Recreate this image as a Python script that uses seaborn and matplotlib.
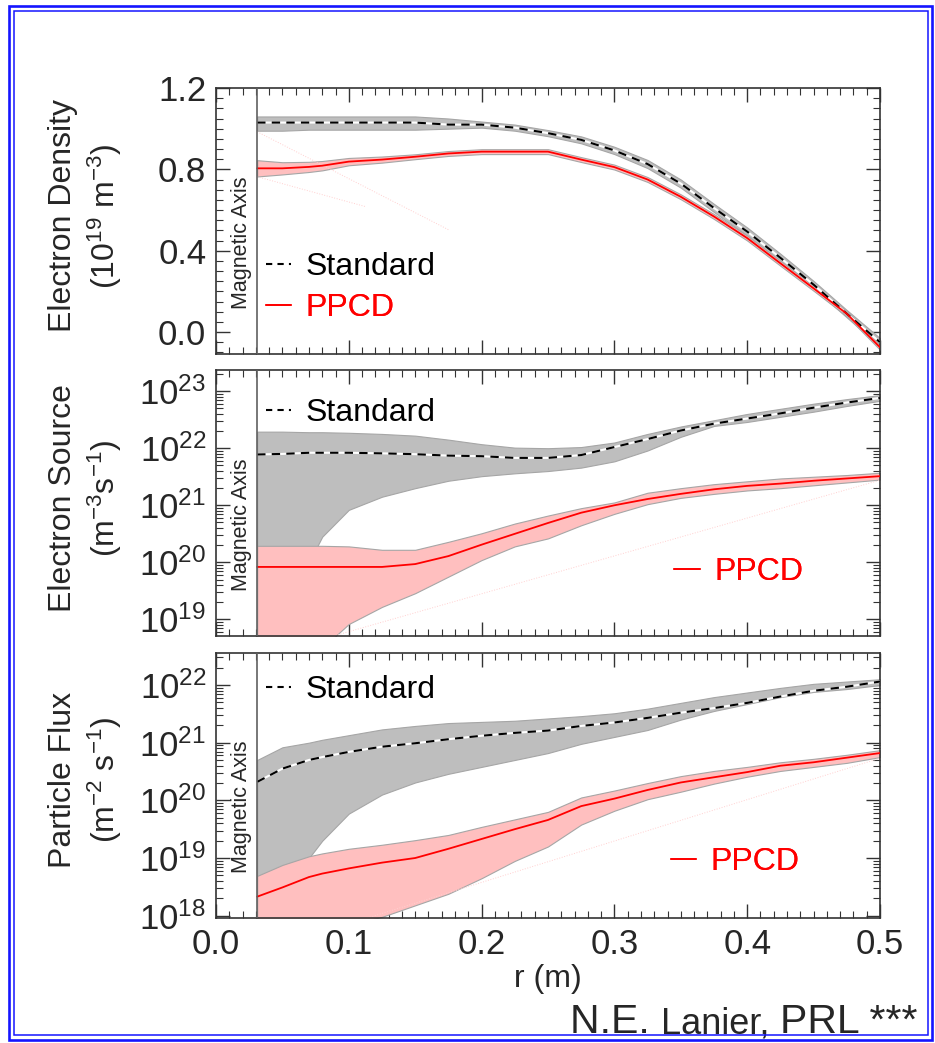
import numpy as np
import seaborn as sns
import matplotlib.pyplot as plt
from matplotlib.lines import Line2D
from matplotlib.patches import Rectangle
from matplotlib.ticker import MultipleLocator, LogLocator, NullFormatter, FormatStrFormatter
import matplotlib.transforms as mtransforms

sns.set_style("white")
plt.rcParams['font.family'] = ['Liberation Sans', 'DejaVu Sans']
plt.rcParams['mathtext.fontset'] = 'custom'
plt.rcParams['mathtext.rm'] = 'Liberation Sans'
plt.rcParams['mathtext.it'] = 'Liberation Sans:italic'
plt.rcParams['mathtext.bf'] = 'Liberation Sans:bold'
plt.rcParams['mathtext.default'] = 'regular'

# radius grid (m) and magnetic axis position
r = [0.031, 0.05, 0.07, 0.08, 0.1, 0.125, 0.15, 0.175, 0.2, 0.225, 0.25,
     0.275, 0.3, 0.325, 0.35, 0.375, 0.4, 0.425, 0.45, 0.475, 0.5]
mag_axis = 0.031

# electron density (1e19 m^-3)
dens_std = [1.03, 1.03, 1.03, 1.03, 1.03, 1.03, 1.03, 1.02, 1.02, 1.005, 0.978,
            0.945, 0.893, 0.826, 0.73, 0.61, 0.494, 0.365, 0.233, 0.09, -0.05]
dens_std_lo = [0.99, 0.99, 0.995, 0.995, 0.995, 0.995, 0.995, 1.0, 1.005, 0.99, 0.963,
               0.928, 0.875, 0.806, 0.71, 0.59, 0.474, 0.345, 0.215, 0.072, -0.07]
dens_std_hi = [1.06, 1.06, 1.06, 1.06, 1.06, 1.06, 1.06, 1.05, 1.035, 1.02, 0.993,
               0.962, 0.911, 0.846, 0.75, 0.63, 0.514, 0.385, 0.251, 0.108, -0.03]
dens_ppcd = [0.805, 0.805, 0.812, 0.818, 0.838, 0.848, 0.862, 0.878, 0.887, 0.887, 0.887,
             0.848, 0.811, 0.75, 0.665, 0.568, 0.462, 0.338, 0.215, 0.09, -0.075]
dens_ppcd_lo = [0.765, 0.775, 0.787, 0.795, 0.82, 0.833, 0.85, 0.866, 0.875, 0.875, 0.875,
                0.836, 0.799, 0.738, 0.653, 0.556, 0.45, 0.326, 0.203, 0.078, -0.087]
dens_ppcd_hi = [0.845, 0.835, 0.837, 0.841, 0.856, 0.863, 0.874, 0.89, 0.899, 0.899, 0.899,
                0.86, 0.823, 0.762, 0.677, 0.58, 0.474, 0.35, 0.227, 0.102, -0.063]

# electron source, log10 (m^-3 s^-1)
src_std = [21.89, 21.9, 21.92, 21.92, 21.92, 21.91, 21.895, 21.87, 21.86, 21.83, 21.83,
           21.88, 22.02, 22.16, 22.31, 22.43, 22.52, 22.61, 22.71, 22.8, 22.88]
src_std_hi = [22.29, 22.29, 22.28, 22.28, 22.27, 22.25, 22.22, 22.15, 22.07, 22.01, 22.0,
              22.02, 22.1, 22.25, 22.38, 22.49, 22.6, 22.69, 22.78, 22.86, 22.93]
src_std_lo = [20.0, 20.0, 20.0, 20.45, 20.92, 21.15, 21.3, 21.43, 21.51, 21.56, 21.6,
              21.66, 21.77, 21.96, 22.2, 22.39, 22.46, 22.55, 22.64, 22.74, 22.83]
src_ppcd = [19.92, 19.92, 19.92, 19.92, 19.92, 19.92, 19.97, 20.11, 20.31, 20.5, 20.69,
            20.87, 21.0, 21.11, 21.2, 21.28, 21.34, 21.38, 21.43, 21.47, 21.51]
src_ppcd_hi = [20.29, 20.29, 20.29, 20.29, 20.28, 20.22, 20.22, 20.36, 20.51, 20.68, 20.82,
               20.95, 21.05, 21.22, 21.3, 21.37, 21.42, 21.47, 21.5, 21.53, 21.57]
src_ppcd_lo = [18.3, 18.3, 18.4, 18.5, 18.92, 19.22, 19.46, 19.75, 20.04, 20.28, 20.42,
               20.65, 20.85, 21.02, 21.13, 21.2, 21.26, 21.3, 21.35, 21.4, 21.45]

# particle flux, log10 (m^-2 s^-1)
flux_std = [20.32, 20.55, 20.7, 20.75, 20.84, 20.93, 20.99, 21.06, 21.12, 21.17, 21.21,
            21.29, 21.35, 21.43, 21.52, 21.6, 21.69, 21.8, 21.9, 21.97, 22.06]
flux_std_hi = [20.7, 20.92, 21.0, 21.05, 21.13, 21.23, 21.29, 21.34, 21.36, 21.38, 21.42,
               21.46, 21.51, 21.59, 21.69, 21.79, 21.87, 21.95, 22.02, 22.06, 22.1]
flux_std_lo = [18.6, 18.75, 19.0, 19.3, 19.77, 20.1, 20.31, 20.46, 20.58, 20.7, 20.82,
               20.98, 21.1, 21.22, 21.4, 21.55, 21.67, 21.79, 21.88, 21.93, 22.0]
flux_ppcd = [18.33, 18.49, 18.67, 18.73, 18.82, 18.92, 19.0, 19.16, 19.33, 19.5, 19.66,
             19.9, 20.03, 20.18, 20.31, 20.4, 20.49, 20.6, 20.66, 20.74, 20.82]
flux_ppcd_hi = [18.69, 18.88, 19.03, 19.08, 19.16, 19.23, 19.31, 19.4, 19.54, 19.67, 19.8,
                20.05, 20.17, 20.3, 20.42, 20.51, 20.58, 20.66, 20.72, 20.79, 20.87]
flux_ppcd_lo = [17.4, 17.5, 17.6, 17.7, 17.85, 17.98, 18.18, 18.38, 18.65, 18.95, 19.2,
                19.58, 19.82, 20.02, 20.15, 20.29, 20.41, 20.51, 20.58, 20.65, 20.75]

# faint guide lines
dens_guide_r = [[0.031, 0.176], [0.031, 0.113]]
dens_guide = [[0.985, 0.50], [0.764, 0.616]]
src_guide_r = [[0.09, 0.5]]
src_guide = [[18.72, 21.44]]
flux_guide_r = [[0.114, 0.5]]
flux_guide = [[17.96, 20.73]]

GRAY = '#bebebe'
PINK = '#ffbfbf'
EDGE = '#a6a6a6'
FS = 23

W, H = 935, 1043
fig = plt.figure(figsize=(W / 100, H / 100), dpi=100)


def px_axes(left, top, right, bottom):
    return fig.add_axes([left / W, 1 - bottom / H, (right - left) / W, (bottom - top) / H])


ax1 = px_axes(216, 88, 880, 354)
ax2 = px_axes(216, 370, 880, 636)
ax3 = px_axes(216, 652.7, 880, 918)


def draw(ax, std, std_lo, std_hi, pp, pp_lo, pp_hi, guides_r, guides, log):
    f = (lambda v: 10 ** np.array(v)) if log else (lambda v: np.array(v))
    ax.fill_between(r, f(std_lo), f(std_hi), facecolor=GRAY, edgecolor=EDGE, lw=0.8, zorder=1)
    ax.fill_between(r, f(pp_lo), f(pp_hi), facecolor=PINK, edgecolor=EDGE, lw=0.8, zorder=2)
    for gr, gv in zip(guides_r, guides):
        sns.lineplot(x=gr, y=f(gv), ax=ax, color='#ffd0d0', lw=0.7, linestyle=':', zorder=2.5)
    sns.lineplot(x=r, y=f(std), ax=ax, color='white', lw=1.5, zorder=3)
    sns.lineplot(x=r, y=f(std), ax=ax, color='black', lw=1.5, linestyle=(0, (4, 3)), zorder=4)
    sns.lineplot(x=r, y=f(pp), ax=ax, color='red', lw=1.3, zorder=5)
    ax.axvline(mag_axis, color='#606060', lw=1.2, zorder=6)
    trans = mtransforms.blended_transform_factory(ax.transData, ax.transAxes)
    ax.text(mag_axis - 0.004, 0.42, 'Magnetic Axis', transform=trans, rotation=90,
            ha='right', va='center', fontsize=15.5)
    ax.set_xlim(0, 0.5)
    ax.xaxis.set_major_locator(MultipleLocator(0.1))
    ax.xaxis.set_minor_locator(MultipleLocator(0.01))
    ax.tick_params(which='both', direction='in', top=True, right=True, bottom=True, left=True,
                   labelsize=25, pad=7, color='#333333')
    ax.tick_params(which='major', length=10, width=1)
    ax.tick_params(which='minor', length=5, width=0.8)
    for s in ax.spines.values():
        s.set_linewidth(1.2)
        s.set_color('#333333')
    ax.set_xlabel('')
    ax.set_ylabel('')


def add_legend(ax, label, handle, color, pos):
    leg = ax.legend(handles=[handle], labels=[label], loc='center left', bbox_to_anchor=pos,
                    frameon=False, borderpad=0, borderaxespad=0, handlelength=0.8,
                    handletextpad=0.45, fontsize=FS, labelcolor=[color])
    ax.add_artist(leg)


h_std = Line2D([], [], color='black', lw=1.5, linestyle=(0, (3, 2.5)))
h_pp = Line2D([], [], color='red', lw=1.3)

draw(ax1, dens_std, dens_std_lo, dens_std_hi, dens_ppcd, dens_ppcd_lo, dens_ppcd_hi,
     dens_guide_r, dens_guide, False)
ax1.set_ylim(-0.108, 1.2)
ax1.yaxis.set_major_locator(MultipleLocator(0.4))
ax1.yaxis.set_minor_locator(MultipleLocator(0.05))
ax1.yaxis.set_major_formatter(FormatStrFormatter('%.1f'))
ax1.tick_params(labelbottom=False)
add_legend(ax1, 'Standard', h_std, 'black', (0.075, 0.327))
add_legend(ax1, 'PPCD', h_pp, 'red', (0.075, 0.173))

draw(ax2, src_std, src_std_lo, src_std_hi, src_ppcd, src_ppcd_lo, src_ppcd_hi,
     src_guide_r, src_guide, True)
ax2.set_yscale('log')
ax2.set_ylim(10 ** 18.71, 10 ** 23.37)
ax2.tick_params(labelbottom=False)
add_legend(ax2, 'Standard', h_std, 'black', (0.075, 0.838))
add_legend(ax2, 'PPCD', h_pp, 'red', (0.69, 0.24))

draw(ax3, flux_std, flux_std_lo, flux_std_hi, flux_ppcd, flux_ppcd_lo, flux_ppcd_hi,
     flux_guide_r, flux_guide, True)
ax3.set_yscale('log')
ax3.set_ylim(10 ** 17.96, 10 ** 22.56)
ax3.xaxis.set_major_formatter(FormatStrFormatter('%.1f'))
ax3.set_xlabel('r (m)', fontsize=FS, labelpad=2)
add_legend(ax3, 'Standard', h_std, 'black', (0.075, 0.86))
add_legend(ax3, 'PPCD', h_pp, 'red', (0.685, 0.211))

for ax in (ax2, ax3):
    ax.yaxis.set_major_locator(LogLocator(base=10, numticks=12))
    ax.yaxis.set_minor_locator(LogLocator(base=10, subs=np.arange(2, 10), numticks=12))
    ax.yaxis.set_minor_formatter(NullFormatter())
    ax.xaxis.set_minor_locator(MultipleLocator(0.01))

# y-axis titles
ylabels = ['Electron Density\n(10$^{19}$ m$^{-3}$)',
           'Electron Source\n(m$^{-3}$s$^{-1}$)',
           'Particle Flux\n(m$^{-2}$ s$^{-1}$)']
ycenters = [216, 498, 780]
for lab, yc in zip(ylabels, ycenters):
    fig.text(86 / W, 1 - yc / H, lab, rotation=90, ha='center', va='center',
             fontsize=FS, multialignment='center', linespacing=1.25)

# citation footer, pieces placed side by side on one baseline
renderer = fig.canvas.get_renderer()
x_px = 570
for piece, size in [('N.E. ', 29.5), ('Lanier, ', 26), ('PRL ***', 29.5)]:
    t = fig.text(x_px / W, 1 - 1033 / H, piece, fontsize=size, va='baseline', ha='left')
    x_px += t.get_window_extent(renderer).width

# blue double frame
fig.add_artist(Rectangle((9 / W, 3 / H), 923 / W, 1034 / H, transform=fig.transFigure,
                         fill=False, edgecolor='#1515ff', lw=1.9, zorder=10))
fig.add_artist(Rectangle((14 / W, 8 / H), 914 / W, 1024 / H, transform=fig.transFigure,
                         fill=False, edgecolor='#1515ff', lw=1.1, zorder=10))

fig.savefig('out.png', dpi=100, facecolor='white')
